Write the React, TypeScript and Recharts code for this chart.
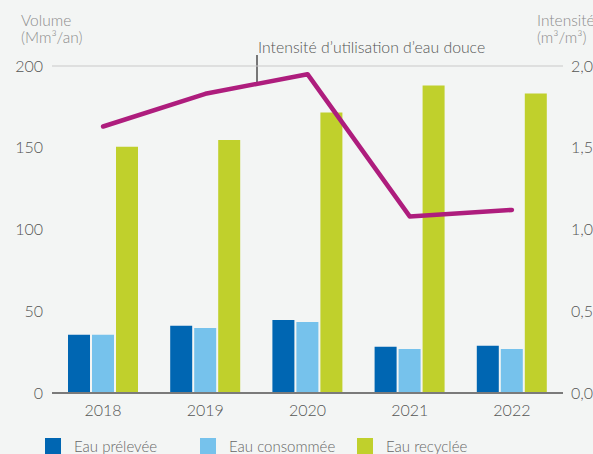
import {
  ComposedChart,
  Bar,
  Line,
  XAxis,
  YAxis,
  CartesianGrid
} from "recharts"

const years = ["2018", "2019", "2020", "2021", "2022"]
const eauPrelevee = [35.7, 41.2, 44.6, 28.3, 28.9]
const eauConsommee = [35.7, 39.8, 43.4, 26.9, 26.9]
const eauRecyclee = [150.6, 154.8, 171.5, 188.0, 183.2]
const intensite = [1.63, 1.83, 1.95, 1.08, 1.12]

const volumeTicks = [0, 50, 100, 150, 200]
const intensiteTicks = [0, 0.5, 1, 1.5, 2]

const series = [
  { key: "prelevee", name: "Eau prélevée", color: "#0066b2" },
  { key: "consommee", name: "Eau consommée", color: "#76c2ec" },
  { key: "recyclee", name: "Eau recyclée", color: "#c0d02c" }
]

const font = "Lato, 'Noto Sans', sans-serif"

export default function App() {

  const data = years.map((year, i) => ({
    year,
    prelevee: eauPrelevee[i],
    consommee: eauConsommee[i],
    recyclee: eauRecyclee[i],
    intensite: intensite[i]
  }))

  const legendLeft = [45, 200, 357]

  const tickStyle = { fill: "#555", fontSize: 16, fontFamily: font, fontWeight: 300 }
  const titleStyle = {
    position: "absolute" as const,
    fontFamily: font,
    fontSize: 15.5,
    fontWeight: 300,
    color: "#8c8c8c",
    lineHeight: "17px",
    whiteSpace: "nowrap" as const
  }

  return (
    <div
      style={{
        position: "absolute",
        left: 0,
        top: 0,
        width: 593,
        height: 454,
        overflow: "hidden",
        background: "#f3f5f4"
      }}
    >

      <div style={{ ...titleStyle, left: 21, top: 12 }}>
        Volume<br />(Mm³/an)
      </div>

      <div style={{ ...titleStyle, left: 537, top: 12 }}>
        Intensité<br />(m³/m³)
      </div>

      <div
        style={{
          ...titleStyle,
          left: 258,
          top: 38,
          fontSize: 15.8,
          color: "#555"
        }}
      >
        Intensité d’utilisation d’eau douce
      </div>

      <div
        style={{
          position: "absolute",
          left: 256,
          top: 55,
          width: 2,
          height: 27,
          background: "#777"
        }}
      />

      <ComposedChart
        width={593}
        height={454}
        data={data}
        margin={{ top: 66, right: 0, bottom: 31, left: 0 }}
        barSize={22}
        barGap={2}
      >

        <CartesianGrid vertical={false} stroke="#c9c9c9" />

        <XAxis
          dataKey="year"
          tickLine={false}
          tickSize={0}
          tickMargin={12}
          height={30}
          axisLine={{ stroke: "#7a7a7a", strokeWidth: 2 }}
          tick={tickStyle}
        />

        <YAxis
          yAxisId="left"
          domain={[0, 200]}
          ticks={volumeTicks}
          width={52}
          axisLine={false}
          tickLine={false}
          tickSize={0}
          tickMargin={9}
          tick={tickStyle}
        />

        <YAxis
          yAxisId="right"
          orientation="right"
          domain={[0, 2]}
          ticks={intensiteTicks}
          width={30}
          axisLine={false}
          tickLine={false}
          tickSize={0}
          tickMargin={8}
          tick={{ ...tickStyle, textAnchor: "start" }}
          tickFormatter={(v: number) => v.toFixed(1).replace(".", ",")}
        />

        {series.map(s => (
          <Bar
            key={s.key}
            yAxisId="left"
            dataKey={s.key}
            name={s.name}
            fill={s.color}
            isAnimationActive={false}
          />
        ))}

        <Line
          yAxisId="right"
          type="linear"
          dataKey="intensite"
          stroke="#ae1d7d"
          strokeWidth={4.5}
          strokeLinecap="round"
          strokeLinejoin="round"
          dot={false}
          activeDot={false}
          isAnimationActive={false}
        />

      </ComposedChart>

      {series.map((s, i) => (
        <div
          key={s.key}
          style={{
            position: "absolute",
            left: legendLeft[i],
            top: 438,
            display: "flex",
            alignItems: "flex-start",
            fontFamily: font,
            fontSize: 15,
            fontWeight: 300,
            color: "#666",
            whiteSpace: "nowrap"
          }}
        >
          <span
            style={{
              width: 16,
              height: 16,
              background: s.color,
              marginRight: 13
            }}
          />
          <span style={{ lineHeight: "16px" }}>{s.name}</span>
        </div>
      ))}

    </div>
  )
}
